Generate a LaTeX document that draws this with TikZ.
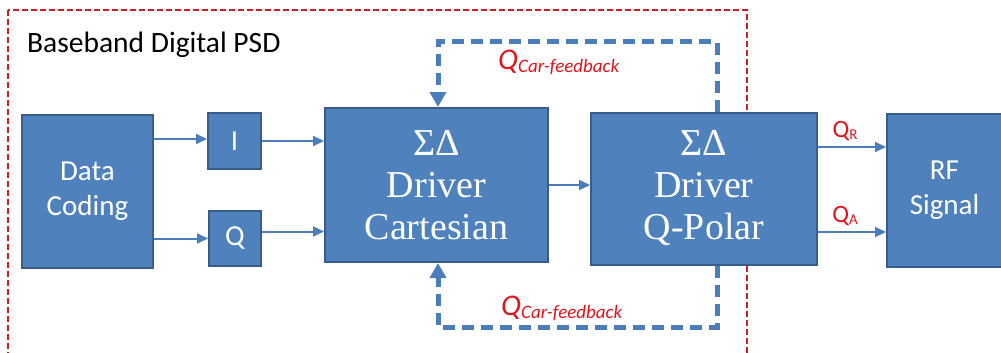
\documentclass[tikz,border=0pt]{standalone}
\usepackage{fontspec}
\setmainfont{Carlito}
\newfontfamily\serifA{Liberation Serif}
\usetikzlibrary{arrows.meta,calc}
\definecolor{boxfill}{RGB}{79,129,189}
\definecolor{boxline}{RGB}{56,93,138}
\definecolor{arrcol}{RGB}{74,126,187}
\definecolor{redbox}{RGB}{205,30,40}
\definecolor{redtxt}{RGB}{225,20,30}
\tikzset{
  blk/.style={draw=boxline, line width=2pt, fill=boxfill, text=white, align=center, inner sep=0pt},
  sanstxt/.style={font=\fontsize{29}{35}\selectfont},
  seriftxt/.style={font=\serifA\fontsize{38}{42}\selectfont},
  arr/.style={draw=arrcol, line width=2pt, -{Triangle[length=11pt,width=10pt]}},
  fb/.style={draw=arrcol, line width=5pt, dash pattern=on 12pt off 7pt, -{Triangle[length=15pt,width=16pt]}},
  lbl/.style={text=redtxt, inner sep=0pt},
}
\begin{document}
\begin{tikzpicture}[x=1pt,y=-1pt]
\useasboundingbox (0,0) rectangle (1001,353);
\clip (0,0) rectangle (1001,353);
\fill[white] (0,0) rectangle (1001,353);
% outer red dashed frame
\draw[redbox, line width=1.3pt, dash pattern=on 6pt off 3pt] (8,10) rectangle (747,370);
\node[anchor=west, inner sep=0pt, font=\fontsize{29.5}{32}\selectfont] (title) at (27,45) {Baseband Digital PSD};
% blocks
\node[blk, sanstxt, minimum width=131pt, minimum height=153pt] (dc) at (87.5,191.5) {Data\\Coding};
\node[blk, sanstxt, minimum width=53pt, minimum height=56pt] (ib) at (234.5,141) {\raisebox{-4pt}{I}};
\node[blk, sanstxt, minimum width=52pt, minimum height=55pt] (qb) at (235,238.5) {\raisebox{-6pt}{Q}};
\node[blk, seriftxt, minimum width=223pt, minimum height=154pt] (cart) at (436.5,185) {ΣΔ\\Driver\\Cartesian};
\node[blk, seriftxt, minimum width=226pt, minimum height=152pt] (qp) at (704,189) {\raisebox{-5pt}{\begin{tabular}{@{}c@{}}ΣΔ\\Driver\\Q-Polar\end{tabular}}};
\node[blk, sanstxt, minimum width=123pt, minimum height=153pt] (rf) at (948.5,190.5) {\hspace*{-8pt}RF\\\hspace*{-8pt}Signal};
% connectors
\draw[arr] (dc.east |- 0,139) -- (ib.west |- 0,139);
\draw[arr] (dc.east |- qb.west) -- (qb.west);
\draw[arr] (ib.east) -- (ib.east -| cart.west);
\coordinate (qo) at ([yshift=7pt]qb.east);
\draw[arr] (qo) -- (qo -| cart.west);
\draw[arr] (cart.east) -- (cart.east -| qp.west);
\coordinate (qr) at ([yshift=42pt]qp.east);
\coordinate (qa) at ([yshift=-43pt]qp.east);
\draw[arr] (qr) -- (qr -| rf.west);
\draw[arr] (qa) -- (qa -| rf.west);
\node[lbl, font=\fontsize{25}{27}\selectfont] (lr) at (845,131) {Q\raisebox{-2pt}{\fontsize{15}{16}\selectfont R}};
\node[lbl, font=\fontsize{25}{27}\selectfont] (la) at (845,216) {Q\raisebox{-2pt}{\fontsize{15}{16}\selectfont A}};
% feedback loops
\coordinate (ft) at (717,42);
\coordinate (fbt) at (717,327);
\draw[fb] (ft |- qp.north) -- (ft) -| ([xshift=1.5pt]cart.north);
\draw[fb] (fbt |- qp.south) -- (fbt) -| ([xshift=1.5pt]cart.south);
\node[lbl, anchor=west, font=\itshape\fontsize{30}{32}\selectfont] (ltop) at (498,62) {Q\raisebox{-3pt}{\fontsize{19}{20}\selectfont Car-feedback}};
\node[lbl, anchor=west, font=\itshape\fontsize{30}{32}\selectfont] (lbot) at (501,308) {Q\raisebox{-3pt}{\fontsize{19}{20}\selectfont Car-feedback}};
\end{tikzpicture}
\end{document}
